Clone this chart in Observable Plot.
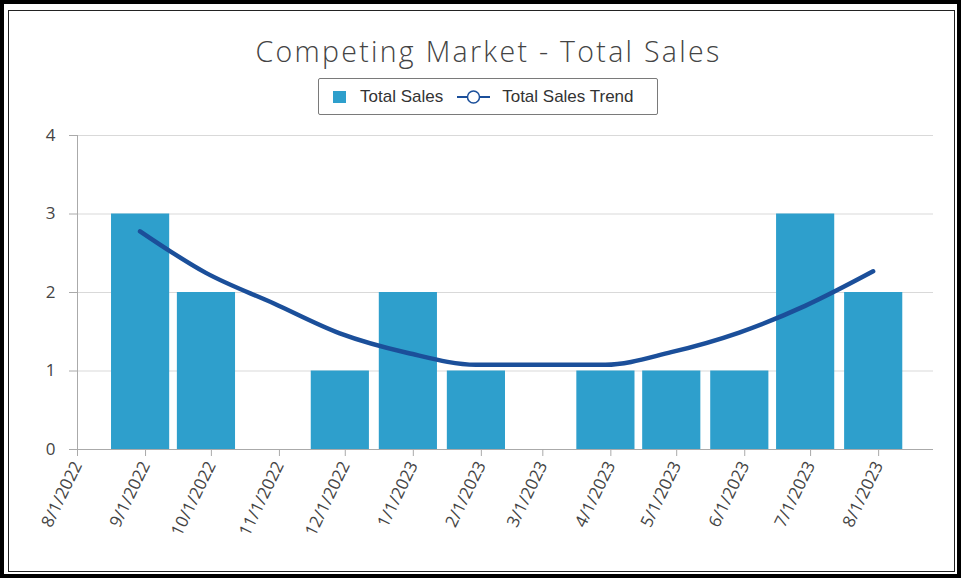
<!DOCTYPE html>
<html>
<head>
<meta charset="utf-8">
<script src="https://cdn.jsdelivr.net/npm/d3@7"></script>
<script src="https://cdn.jsdelivr.net/npm/@observablehq/plot@0.6"></script>
<style>
  html, body { margin: 0; padding: 0; background: #fff; }
  #outer { position: relative; width: 961px; height: 578px; box-sizing: border-box; border: 4px solid #000; background: #fff; overflow: hidden; }
  #inner { position: absolute; left: 4px; top: 6px; width: 947px; height: 562px; box-sizing: border-box; border: 1.5px solid #222; }
  #title { position: absolute; left: 4px; width: 961px; top: 28px; text-align: center; font-family: "Open Sans", sans-serif; font-weight: 300; font-size: 28.5px; color: #444; letter-spacing: 2.3px; white-space: nowrap; }
  #legend { position: absolute; left: 314px; top: 74px; width: 340px; height: 37px; box-sizing: border-box; border: 1px solid #7a7a7a; border-radius: 2px; display: flex; align-items: center; padding-left: 14px; font-family: "Liberation Sans", Arial, sans-serif; font-size: 17px; color: #333; white-space: nowrap; }
  .sw { display: inline-block; width: 13px; height: 12px; background: #2E9FCC; margin-right: 14px; }
  .item { display: flex; align-items: center; }
  #chart { position: absolute; left: -8px; top: 117px; width: 965px; height: 440px; }
  #chart svg { max-width: none; }
</style>
</head>
<body>
<div id="outer">
  <div id="inner"></div>
  <div id="title">Competing Market - Total Sales</div>
  <div id="legend">
    <span class="item"><span class="sw"></span>Total Sales</span>
    <span class="item" style="margin-left:14px"><svg width="33" height="14" style="margin-right:12px"><line x1="0" y1="7" x2="33" y2="7" stroke="#1B4F9A" stroke-width="2"/><circle cx="16.5" cy="7" r="6" fill="#fff" stroke="#1B4F9A" stroke-width="1.5"/></svg>Total Sales Trend</span>
  </div>
  <div id="chart"></div>
</div>
<script>
const months = ["2022-09-01","2022-10-01","2022-11-01","2022-12-01","2023-01-01","2023-02-01","2023-03-01","2023-04-01","2023-05-01","2023-06-01","2023-07-01","2023-08-01"];
const totalSales = [3, 2, 0, 1, 2, 1, 0, 1, 1, 1, 3, 2];
const salesTrend = [2.78, 2.25, 1.86, 1.48, 1.23, 1.08, 1.08, 1.08, 1.24, 1.49, 1.83, 2.27];
const tickDates = ["2022-08-01","2022-09-01","2022-10-01","2022-11-01","2022-12-01","2023-01-01","2023-02-01","2023-03-01","2023-04-01","2023-05-01","2023-06-01","2023-07-01","2023-08-01"];
const yTicks = [0, 1, 2, 3, 4];

const parse = d3.utcParse("%Y-%m-%d");
const DAY = 864e5;
const data = months.map((m, i) => ({date: parse(m), sales: totalSales[i], trend: salesTrend[i]}));
const ticks = tickDates.map(parse);

const chart = Plot.plot({
  width: 965,
  height: 440,
  marginTop: 14,
  marginBottom: 112,
  marginLeft: 81,
  marginRight: 28,
  style: {fontFamily: "'Open Sans', sans-serif", color: "#444", background: "transparent"},
  x: {type: "utc", domain: [parse("2022-08-01"), parse("2023-08-26")]},
  y: {domain: [0, 4]},
  marks: [
    Plot.gridY(yTicks.slice(1), {stroke: "#d9d9d9", strokeOpacity: 1, strokeWidth: 1}),
    Plot.rectY(data.filter(d => d.sales > 0), {
      x1: d => new Date(+d.date - 15.5 * DAY),
      x2: d => new Date(+d.date + 11 * DAY),
      y: "sales",
      fill: "#2E9FCC"
    }),
    Plot.line(data, {
      x: d => new Date(+d.date - 2.5 * DAY),
      y: "trend",
      stroke: "#1B4F9A",
      strokeWidth: 4.5,
      curve: "monotone-x"
    }),
    Plot.ruleX([parse("2022-08-01")], {stroke: "#aaa", y1: 0, y2: 4}),
    Plot.ruleY([0], {stroke: "#aaa"}),
    Plot.axisY({ticks: yTicks, tickSize: 8, tickPadding: 14, fontSize: 17, stroke: "#aaa", label: null, tickFormat: d3.format("d")}),
    Plot.axisX({ticks: ticks, tickFormat: d3.utcFormat("%-m/%-d/%Y"), tickRotate: -64, tickSize: 7, tickPadding: 6, fontSize: 17, stroke: "#aaa", label: null})
  ]
});
document.getElementById("chart").appendChild(chart);
</script>
</body>
</html>
